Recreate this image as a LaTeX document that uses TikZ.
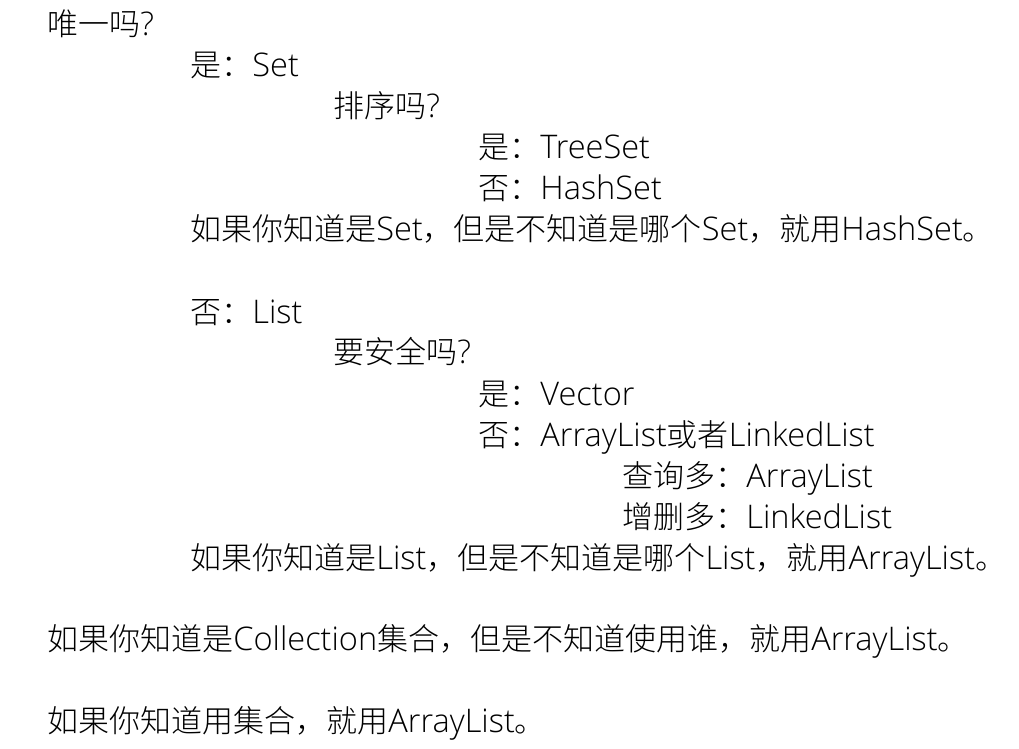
\documentclass[tikz,border=0pt]{standalone}
\usepackage{fontspec}
\setmainfont{Noto Sans CJK SC}[UprightFont=* Light]
\newfontfamily\lat{Open Sans}[UprightFont=* Light, Scale=1.05]
\usetikzlibrary{positioning}

\begin{document}
\begin{tikzpicture}[x=0.5pt, y=-0.5pt,
    line/.style={anchor=base west, inner sep=0pt, font=\fontsize{15.5pt}{18pt}\selectfont}]
    % Canvas
    \useasboundingbox (0,0) rectangle (1019,749);

    % Set branch
    \node[line] (unique) at (47,36) {唯一吗{\lat ?}};
    \node[line] (set) at (190,77) {是：{\lat Set}};
    \node[line] (sorted) at (333,118) {排序吗{\lat ?}};
    \node[line] (treeset) at (478,159) {是：{\lat TreeSet}};
    \node[line] (hashset) at (478,199) {否：{\lat HashSet}};
    \node[line] (setnote) at (190,241) {如果你知道是{\lat Set}，但是不知道是哪个{\lat Set}，就用{\lat HashSet}。};

    % List branch
    \node[line] (list) at (190,323) {否：{\lat List}};
    \node[line] (safe) at (333,364) {要安全吗{\lat ?}};
    \node[line] (vector) at (478,405) {是：{\lat Vector}};
    \node[line] (either) at (478,446) {否：{\lat ArrayList}或者{\lat LinkedList}};
    \node[line] (query) at (622,487) {查询多：{\lat ArrayList}};
    \node[line] (modify) at (622,528) {增删多：{\lat LinkedList}};
    \node[line] (listnote) at (190,569) {如果你知道是{\lat List}，但是不知道是哪个{\lat List}，就用{\lat ArrayList}。};

    % Summary
    \node[line] (collnote) at (47,650) {如果你知道是{\lat Collection}集合，但是不知道使用谁，就用{\lat ArrayList}。};
    \node[line] (usenote) at (47,732) {如果你知道用集合，就用{\lat ArrayList}。};
\end{tikzpicture}
\end{document}
